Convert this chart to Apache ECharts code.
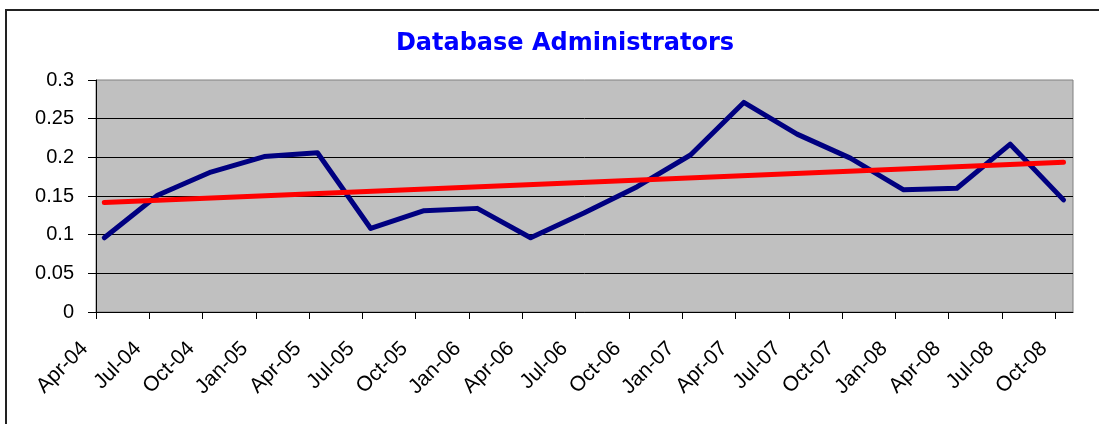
<!DOCTYPE html>
<html>
<head>
<meta charset="utf-8">
<script src="https://cdn.jsdelivr.net/npm/echarts@6/dist/echarts.min.js"></script>
<style>
  html, body { margin: 0; padding: 0; background: #fff; }
  #chart { width: 1099px; height: 424px; }
</style>
</head>
<body>
<div id="chart"></div>
<script>
  // quarter tick labels, first one is the axis origin
  var tickLabels = ['Apr-04', 'Jul-04', 'Oct-04', 'Jan-05', 'Apr-05', 'Jul-05', 'Oct-05', 'Jan-06', 'Apr-06', 'Jul-06',
    'Oct-06', 'Jan-07', 'Apr-07', 'Jul-07', 'Oct-07', 'Jan-08', 'Apr-08', 'Jul-08', 'Oct-08']
  // dates of the observations
  var pointDates = ['2004-04-15', '2004-07-15', '2004-10-15', '2005-01-15', '2005-04-15', '2005-07-15', '2005-10-15',
    '2006-01-15', '2006-04-15', '2006-07-15', '2006-10-15', '2007-01-15', '2007-04-15', '2007-07-15', '2007-10-15',
    '2008-01-15', '2008-04-15', '2008-07-15', '2008-10-15']
  var values = [0.096, 0.151, 0.181, 0.201, 0.206, 0.108, 0.131, 0.134, 0.096, 0.128,
    0.162, 0.203, 0.271, 0.230, 0.199, 0.158, 0.160, 0.217, 0.145]
  // linear trend read at first and last observation
  var trendDates = ['2004-04-15', '2008-10-15']
  var trendValues = [0.1415, 0.1937]
  var yTicks = [0, 0.05, 0.1, 0.15, 0.2, 0.25, 0.3]

  // months since Apr-04
  function monthPos (s) {
    var p = s.split('-')
    return (Number(p[0]) - 2004) * 12 + (Number(p[1]) - 4) + (Number(p[2]) - 1) / 30
  }
  var tickVals = tickLabels.map(function (t, i) { return i * 3 })

  var chart = echarts.init(document.getElementById('chart'))
  chart.setOption({
    animation: false,
    title: {
      text: 'Database Administrators',
      left: 560,
      top: 27,
      textAlign: 'center',
      textStyle: { color: '#0000FF', fontFamily: 'DejaVu Sans', fontWeight: 'bold', fontSize: 24 }
    },
    graphic: [{
      type: 'rect',
      shape: { x: 6, y: 10, width: 1200, height: 600 },
      style: { fill: 'none', stroke: '#222', lineWidth: 2 }
    }],
    grid: {
      left: 96, top: 80, right: 26, bottom: 112,
      show: true, backgroundColor: '#C0C0C0', borderColor: '#808080', borderWidth: 1
    },
    xAxis: {
      type: 'value',
      min: 0,
      max: 55,
      interval: 3,
      axisLine: { lineStyle: { color: '#000', width: 1 } },
      axisTick: { show: true, length: 7, customValues: tickVals, lineStyle: { color: '#000' } },
      splitLine: { show: false },
      axisLabel: {
        customValues: tickVals,
        rotate: 45,
        margin: 22,
        padding: [0, 16, 0, 0],
        fontSize: 21,
        fontFamily: 'Liberation Sans, Arial',
        color: '#000',
        formatter: function (v) { return tickLabels[Math.round(v / 3)] || '' }
      }
    },
    yAxis: {
      type: 'value',
      min: 0,
      max: 0.3,
      interval: 0.05,
      axisLine: { show: true, lineStyle: { color: '#000', width: 1 } },
      axisTick: { show: true, length: 8, lineStyle: { color: '#000' } },
      splitLine: { show: true, showMaxLine: false, lineStyle: { color: '#000', width: 1 } },
      axisLabel: {
        margin: 22,
        fontSize: 20,
        fontFamily: 'Liberation Sans, Arial',
        color: '#000',
        formatter: function (v) { return yTicks.indexOf(Math.round(v * 100) / 100) >= 0 ? String(Math.round(v * 100) / 100) : '' }
      }
    },
    series: [
      {
        name: 'Database Administrators',
        type: 'line',
        data: pointDates.map(function (d, i) { return [monthPos(d), values[i]] }),
        symbol: 'none',
        lineStyle: { color: '#000080', width: 5, cap: 'round', join: 'round' },
        z: 3
      },
      {
        name: 'Linear',
        type: 'line',
        data: trendDates.map(function (d, i) { return [monthPos(d), trendValues[i]] }),
        symbol: 'none',
        lineStyle: { color: '#FF0000', width: 5, cap: 'round' },
        z: 4
      }
    ]
  })
</script>
</body>
</html>
